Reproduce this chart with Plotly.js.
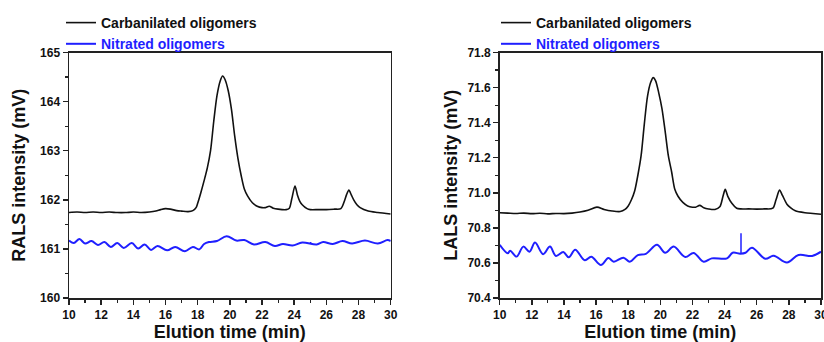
<!DOCTYPE html>
<html>
<head>
<meta charset="utf-8">
<script src="https://cdn.plot.ly/plotly-3.0.1.min.js"></script>
<style>html,body{margin:0;padding:0;background:#fff}#chart{width:824px;height:342px}</style>
</head>
<body>
<div id="chart"></div>
<script>
// ---------- RALS panel (left) ----------
const carbRALS_t = [10.0,10.5,11.0,11.5,12.0,12.5,13.0,13.5,14.0,14.5,15.0,15.4,15.7,16.0,16.3,16.7,17.0,17.4,17.7,17.9,18.0,18.2,18.4,18.6,18.8,19.0,19.2,19.4,19.55,19.7,19.9,20.1,20.3,20.5,20.7,20.9,21.1,21.4,21.7,22.0,22.2,22.45,22.7,23.0,23.5,23.7,23.85,24.05,24.2,24.35,24.5,24.8,25.0,25.5,26.0,26.5,26.9,27.15,27.25,27.4,27.55,27.7,27.9,28.1,28.6,29.2,30.0];
const carbRALS_v = [161.74,161.75,161.74,161.75,161.74,161.75,161.74,161.74,161.75,161.74,161.75,161.77,161.80,161.82,161.81,161.78,161.77,161.76,161.78,161.84,161.93,162.15,162.39,162.65,163.00,163.60,164.12,164.42,164.52,164.45,164.22,163.84,163.30,162.85,162.50,162.22,162.08,161.94,161.87,161.84,161.84,161.87,161.83,161.81,161.80,161.83,162.02,162.28,162.10,161.97,161.90,161.82,161.80,161.80,161.80,161.81,161.82,162.00,162.10,162.20,162.10,162.00,161.90,161.84,161.77,161.74,161.71];

const nitRALS_t = [10.0,10.3,10.65,11.0,11.4,11.8,12.2,12.6,13.0,13.4,13.9,14.3,14.7,15.1,15.5,16.1,16.6,17.2,17.7,18.1,18.4,18.7,19.2,19.8,20.4,20.9,21.5,22.2,22.8,23.3,23.9,24.5,25.4,25.8,26.4,27.0,27.6,28.4,29.2,29.8,30.0];
const nitRALS_v = [161.17,161.12,161.20,161.11,161.16,161.08,161.14,161.04,161.12,161.02,161.12,161.01,161.09,160.98,161.06,160.97,161.04,160.95,161.04,160.99,161.10,161.14,161.16,161.26,161.17,161.18,161.09,161.14,161.06,161.10,161.07,161.13,161.09,161.14,161.10,161.16,161.11,161.17,161.11,161.18,161.16];
const nitRALS_spike_t = [25.02, 25.02];
const nitRALS_spike_v = [161.10, 161.14];

// ---------- LALS panel (right) ----------
const carbLALS_t = [10.0,10.5,11.0,11.5,12.0,12.5,13.0,13.5,14.0,14.5,15.0,15.5,16.05,16.5,17.0,17.5,17.8,18.0,18.2,18.4,18.6,18.8,19.0,19.2,19.4,19.56,19.7,19.9,20.1,20.3,20.5,20.7,20.9,21.1,21.4,21.7,22.0,22.2,22.45,22.7,23.0,23.4,23.7,23.9,24.04,24.2,24.45,24.75,25.0,25.5,26.0,26.5,27.0,27.2,27.42,27.6,27.88,28.1,28.4,29.0,29.5,30.0];
const carbLALS_v = [70.886,70.884,70.882,70.884,70.881,70.883,70.880,70.882,70.881,70.884,70.890,70.900,70.918,70.905,70.896,70.893,70.905,70.925,70.960,71.010,71.100,71.210,71.390,71.550,71.630,71.657,71.640,71.570,71.480,71.350,71.210,71.120,71.020,70.980,70.945,70.925,70.918,70.918,70.928,70.915,70.908,70.905,70.920,70.980,71.020,70.980,70.940,70.912,70.908,70.908,70.907,70.908,70.912,70.960,71.015,70.985,70.935,70.915,70.897,70.886,70.882,70.878];

const nitLALS_t = [10.0,10.5,10.65,11.05,11.47,11.85,12.2,12.7,13.13,13.5,13.96,14.3,14.7,15.3,15.7,16.3,16.76,17.1,17.7,18.1,18.6,19.1,19.79,20.3,20.83,21.55,22.07,22.7,23.2,24.15,24.5,24.97,25.3,25.7,26.53,27.05,27.88,28.6,29.45,30.0];
const nitLALS_v = [70.703,70.655,70.670,70.636,70.693,70.664,70.716,70.650,70.693,70.640,70.662,70.632,70.675,70.615,70.635,70.588,70.628,70.607,70.630,70.607,70.645,70.652,70.703,70.658,70.693,70.634,70.657,70.607,70.626,70.626,70.658,70.653,70.658,70.687,70.624,70.641,70.602,70.645,70.640,70.664];
const nitLALS_spike_t = [25.02, 25.02];
const nitLALS_spike_v = [70.653, 70.769];

// tick definitions
const xTicks = [10,12,14,16,18,20,22,24,26,28,30];
const yTicksRALS = [160,161,162,163,164,165];
const yTicksLALS = [70.4,70.6,70.8,71.0,71.2,71.4,71.6,71.8];

const seriesNames = ['Carbanilated oligomers', 'Nitrated oligomers'];
const black = '#111111';
const blue = '#1f1fff';

const traces = [
  {x: carbRALS_t, y: carbRALS_v, xaxis:'x', yaxis:'y', name: seriesNames[0], legend:'legend',
   mode:'lines', line:{color:black, width:1.6, shape:'spline', smoothing:0.8}},
  {x: nitRALS_t, y: nitRALS_v, xaxis:'x', yaxis:'y', name: '<span style="color:'+blue+'">'+seriesNames[1]+'</span>', legend:'legend',
   mode:'lines', line:{color:blue, width:2, shape:'spline', smoothing:1}},
  {x: nitRALS_spike_t, y: nitRALS_spike_v, xaxis:'x', yaxis:'y', showlegend:false,
   mode:'lines', line:{color:blue, width:1.5}},
  {x: carbLALS_t, y: carbLALS_v, xaxis:'x2', yaxis:'y2', name: seriesNames[0], legend:'legend2',
   mode:'lines', line:{color:black, width:1.6, shape:'spline', smoothing:0.8}},
  {x: nitLALS_t, y: nitLALS_v, xaxis:'x2', yaxis:'y2', name: '<span style="color:'+blue+'">'+seriesNames[1]+'</span>', legend:'legend2',
   mode:'lines', line:{color:blue, width:2, shape:'spline', smoothing:1}},
  {x: nitLALS_spike_t, y: nitLALS_spike_v, xaxis:'x2', yaxis:'y2', showlegend:false,
   mode:'lines', line:{color:blue, width:1.5}}
];

const fam = '"Liberation Sans", Arial, sans-serif';
const tickFont = {family: fam, size: 12, color: '#111', weight: 'bold'};
const titleFont = {family: fam, size: 18, color: '#111', weight: 'bold'};
const axisCommon = {
  showline: true, linecolor: '#222', linewidth: 1.5, mirror: true,
  ticks: 'outside', ticklen: 5, tickwidth: 1.5, tickcolor: '#222',
  showgrid: false, zeroline: false, tickfont: tickFont, automargin: false,
  ticklabeloverflow: 'allow'
};

const layout = {
  width: 824, height: 342,
  margin: {l:0, r:0, t:0, b:0},
  paper_bgcolor: '#fff', plot_bgcolor: '#fff',
  showlegend: true,
  xaxis: Object.assign({}, axisCommon, {
    domain: [69/824, 390.7/824], range: [10, 30], tickvals: xTicks, anchor: 'y',
    minor: {dtick: 1, ticklen: 3, tickwidth: 1.2, tickcolor: '#222', ticks: 'outside'},
    title: {text: 'Elution time (min)', font: titleFont, standoff: 10}
  }),
  yaxis: Object.assign({}, axisCommon, {
    domain: [1-298/342, 1-52.5/342], range: [160, 165], tickvals: yTicksRALS, anchor: 'x',
    minor: {dtick: 0.5, ticklen: 3, tickwidth: 1.2, tickcolor: '#222', ticks: 'outside'},
    title: {text: 'RALS intensity (mV)', font: titleFont, standoff: 10}
  }),
  xaxis2: Object.assign({}, axisCommon, {
    domain: [499.7/824, 821/824], range: [10, 30], tickvals: xTicks, anchor: 'y2',
    minor: {dtick: 1, ticklen: 3, tickwidth: 1.2, tickcolor: '#222', ticks: 'outside'},
    title: {text: 'Elution time (min)', font: titleFont, standoff: 10}
  }),
  yaxis2: Object.assign({}, axisCommon, {
    domain: [1-298/342, 1-52.5/342], range: [70.4, 71.8], tickvals: yTicksLALS, tickformat: '.1f', anchor: 'x2',
    minor: {dtick: 0.1, ticklen: 3, tickwidth: 1.2, tickcolor: '#222', ticks: 'outside'},
    title: {text: 'LALS intensity (mV)', font: titleFont, standoff: 5}
  }),
  legend: {x: 61/824, xanchor: 'left', y: 1 - 7/342, yanchor: 'top', bgcolor: 'rgba(0,0,0,0)',
           font: {family: fam, size: 14, color: '#111', weight: 'bold'}, tracegroupgap: 0},
  legend2: {x: 496/824, xanchor: 'left', y: 1 - 7/342, yanchor: 'top', bgcolor: 'rgba(0,0,0,0)',
           font: {family: fam, size: 14, color: '#111', weight: 'bold'}, tracegroupgap: 0}
};

Plotly.newPlot('chart', traces, layout, {staticPlot: true, displayModeBar: false});
</script>
</body>
</html>
